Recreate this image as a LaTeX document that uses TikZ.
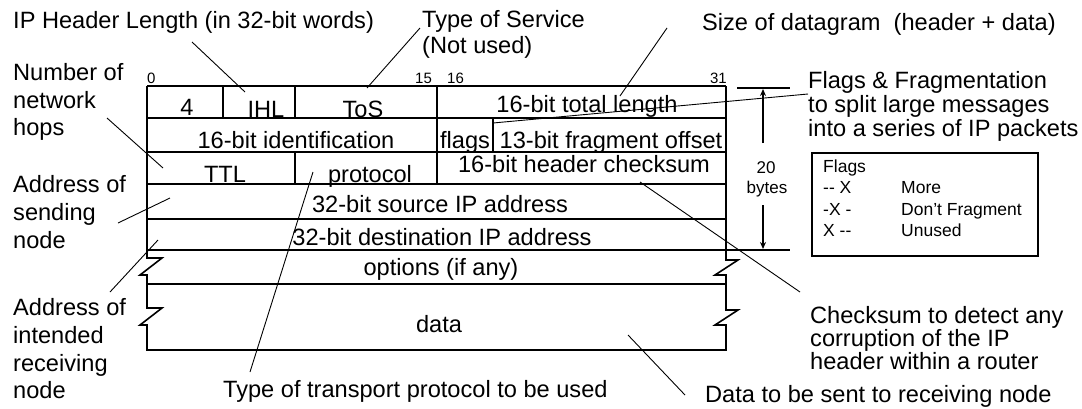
\documentclass[tikz,border=0pt]{standalone}
\usepackage{fontspec}
\setmainfont{Liberation Sans}
\usetikzlibrary{arrows.meta}
\begin{document}
\begin{tikzpicture}[x=1pt,y=-1pt,
  grid/.style={line width=1.6pt},
  lead/.style={line width=0.9pt},
  dimarrow/.style={line width=1.2pt,-{Stealth[length=7pt,width=6pt]}},
  lbl/.style={font=\fontsize{23.6}{27}\selectfont, inner sep=0pt, anchor=base west},
  cell/.style={font=\fontsize{23.6}{27}\selectfont, inner sep=0pt, anchor=base},
  bitno/.style={font=\fontsize{15}{18}\selectfont, inner sep=0pt, anchor=base west},
  smalltxt/.style={font=\fontsize{17.5}{20}\selectfont, inner sep=0pt, anchor=base west},
  dimtxt/.style={font=\fontsize{17}{20}\selectfont, inner sep=0pt, anchor=base},
]
\useasboundingbox (0,0) rectangle (1082,408);

% ---- table outline with break symbols
\draw[grid] (147,86) -- (726,86);
\draw[grid] (147,86) -- (147,258) -- (162,258) -- (140,275) -- (147,275)
  -- (147,308) -- (162,308) -- (140,325) -- (147,325) -- (147,350)
  -- (726,350) -- (726,325) -- (715,325) -- (738,310) -- (726,310)
  -- (726,275) -- (715,275) -- (738,260) -- (726,260) -- (726,86);
% rows
\foreach \yy in {118,152,184,219,284} \draw[grid] (147,\yy) -- (726,\yy);
\draw[grid] (147,250) -- (790,250);
% columns
\draw[grid] (223,86) -- (223,118);
\draw[grid] (295,86) -- (295,118);
\draw[grid] (437,86) -- (437,184);
\draw[grid] (493,118) -- (493,152);
\draw[grid] (295,152) -- (295,184);

% ---- bit numbers
\node[bitno] (b0) at (147,83) {0};
\node[bitno] (b15) at (415,83) {15};
\node[bitno] (b16) at (447,83) {16};
\node[bitno, anchor=base east] (b31) at (727,83) {31};

% ---- cell texts
\node[cell] (ver) at (187,115) {4};
\node[cell] (ihl) at (266,117) {IHL};
\node[cell] (tos) at (363,117) {ToS};
\node[cell] (len) at (587,112) {16-bit total length};
\node[cell] (ident) at (296,148) {16-bit identification};
\node[cell] (flg) at (465,148) {flags};
\node[cell] (frag) at (611,148) {13-bit fragment offset};
\node[cell] (ttl) at (225,182) {TTL};
\node[cell] (proto) at (370,182) {protocol};
\node[cell] (csum) at (584,172) {16-bit header checksum};
\node[cell] (src) at (440,212) {32-bit source IP address};
\node[cell] (dst) at (442,245) {32-bit destination IP address};
\node[cell] (opt) at (441,275) {options (if any)};
\node[cell] (dat) at (439,332) {data};

% ---- labels
\node[lbl] (l-ihl) at (13,28) {IP Header Length (in 32-bit words)};
\node[lbl] (l-tos1) at (422,27) {Type of Service};
\node[lbl] (l-tos2) at (422,53) {(Not used)};
\node[lbl] (l-size) at (702,30) {Size of datagram\ \ (header + data)};
\node[lbl] (l-fl1) at (808,88) {Flags \& Fragmentation};
\node[lbl] (l-fl2) at (808,112) {to split large messages};
\node[lbl] (l-fl3) at (808,136) {into a series of IP packets};
\node[lbl] (l-hop1) at (13,80) {Number of};
\node[lbl] (l-hop2) at (13,108) {network};
\node[lbl] (l-hop3) at (13,135) {hops};
\node[lbl] (l-snd1) at (13,192) {Address of};
\node[lbl] (l-snd2) at (13,220) {sending};
\node[lbl] (l-snd3) at (13,248) {node};
\node[lbl] (l-rcv1) at (13,315) {Address of};
\node[lbl] (l-rcv2) at (13,343) {intended};
\node[lbl] (l-rcv3) at (13,371) {receiving};
\node[lbl] (l-rcv4) at (13,398) {node};
\node[lbl] (l-ck1) at (810,323) {Checksum to detect any};
\node[lbl] (l-ck2) at (810,346) {corruption of the IP};
\node[lbl] (l-ck3) at (810,369) {header within a router};
\node[lbl] (l-tp) at (223,397) {Type of transport protocol to be used};
\node[lbl] (l-data) at (705,402) {Data to be sent to receiving node};

% ---- leader lines
\coordinate (a1) at (192,42);  \coordinate (a2) at (245,92);
\coordinate (c1) at (420,28);  \coordinate (c2) at (367,88);
\coordinate (d1) at (667,28);  \coordinate (d2) at (620,96);
\coordinate (e1) at (808,94);  \coordinate (e2) at (493,123);
\coordinate (f1) at (107,118); \coordinate (f2) at (163,168);
\coordinate (g1) at (118,223); \coordinate (g2) at (170,198);
\coordinate (h1) at (110,292); \coordinate (h2) at (158,240);
\coordinate (i1) at (313,172); \coordinate (i2) at (250,372);
\coordinate (j1) at (640,182); \coordinate (j2) at (800,292);
\coordinate (k1) at (628,335); \coordinate (k2) at (685,395);
\draw[lead] (a1) -- (a2);
\draw[lead] (c1) -- (c2);
\draw[lead] (d1) -- (d2);
\draw[lead] (e1) -- (e2);
\draw[lead] (f1) -- (f2);
\draw[lead] (g1) -- (g2);
\draw[lead] (h1) -- (h2);
\draw[lead] (i1) -- (i2);
\draw[lead] (j1) -- (j2);
\draw[lead] (k1) -- (k2);

% ---- 20 bytes dimension
\draw[grid] (737,88) -- (790,88);
\node[dimtxt] (twenty) at (766,173) {20};
\node[dimtxt] (bytes) at (767,193) {bytes};
\coordinate (dtop) at (763,89);
\coordinate (dbot) at (763,249);
\coordinate (dm1) at (763,143);
\coordinate (dm2) at (763,205);
\draw[dimarrow] (dm1) -- (dtop);
\draw[dimarrow] (dm2) -- (dbot);

% ---- flags legend
\draw[line width=1.3pt] (812,153) rectangle (1038,256);
\node[smalltxt] (fh) at (823,172) {Flags};
\node[smalltxt] (f1c) at (823,193) {-{}- X};
\node[smalltxt] (f2c) at (823,215) {-X -};
\node[smalltxt] (f3c) at (823,236) {X -{}-};
\node[smalltxt] (f1d) at (901,193) {More};
\node[smalltxt] (f2d) at (901,215) {Don't Fragment};
\node[smalltxt] (f3d) at (901,236) {Unused};
\end{tikzpicture}
\end{document}
